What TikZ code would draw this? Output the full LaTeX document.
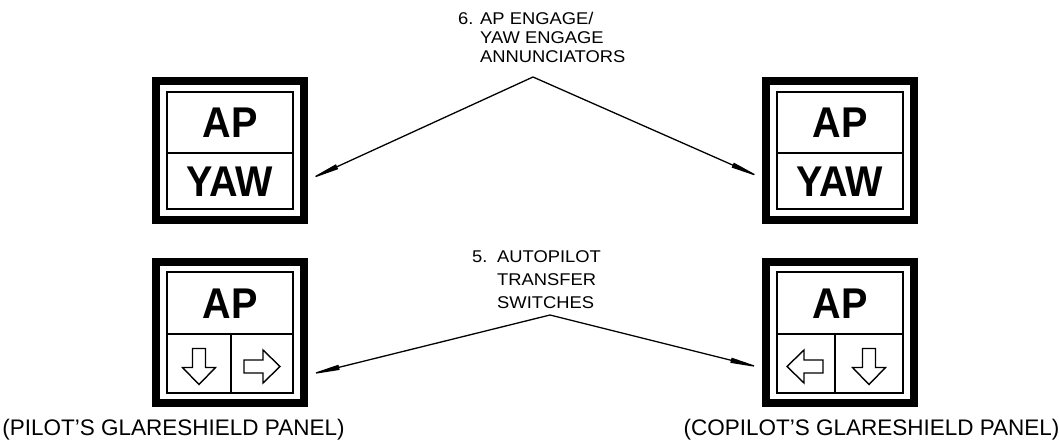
\documentclass[tikz,border=0pt]{standalone}
\usepackage{fontspec}
\setmainfont{Liberation Sans}
\newfontfamily\keyfont[FakeStretch=0.92]{Liberation Sans}
\newfontfamily\lblfont[FakeStretch=1.08]{Liberation Sans}
\usetikzlibrary{arrows.meta}
\begin{document}
\begin{tikzpicture}[x=1pt,y=-1pt,
  outerframe/.style={draw, line width=8pt, minimum width=148pt, inner sep=0pt},
  innerbox/.style={draw, line width=1.8pt, minimum width=126pt, inner sep=0pt},
  divider/.style={line width=1.5pt},
  keytext/.style={font=\keyfont\fontsize{43}{43}\selectfont\bfseries, inner sep=0pt},
  lbl/.style={font=\lblfont\fontsize{17}{17}\selectfont, anchor=base west, inner sep=0pt},
  caption/.style={font=\fontsize{22.5}{22.5}\selectfont, anchor=base, inner sep=0pt},
  leader/.style={line width=1.3pt, -{Triangle[length=32pt,width=5pt]}},
  arrowline/.style={line width=1.4pt, line join=miter},
  blockarrow/.pic={\draw[arrowline] (-18,-6.5) -- (1,-6.5) -- (1,-16.5) -- (18,0) -- (1,16.5) -- (1,6.5) -- (-18,6.5) -- cycle;}
]
\useasboundingbox (0,0) rectangle (1059,444);

% ---- top panels ----
\node[outerframe, minimum height=139pt] (ftl) at (230,150.5) {};
\node[innerbox, minimum height=117pt] (itl) at (230,150.5) {};
\draw[divider] (itl.west |- 0,153) -- (itl.east |- 0,153);
\node[keytext] (tlap) at (230,122.5) {AP};
\node[keytext] (tlyaw) at (230,182) {YAW};

\node[outerframe, minimum height=139pt] (ftr) at (840,150.5) {};
\node[innerbox, minimum height=117pt] (itr) at (840,150.5) {};
\draw[divider] (itr.west |- 0,153) -- (itr.east |- 0,153);
\node[keytext] (trap) at (840,122.5) {AP};
\node[keytext] (tryaw) at (840,182) {YAW};

% ---- bottom panels ----
\node[outerframe, minimum height=141pt] (fbl) at (230,332.5) {};
\node[innerbox, minimum height=121pt] (ibl) at (230,332.5) {};
\draw[divider] (ibl.west |- 0,334) -- (ibl.east |- 0,334);
\draw[divider] (231,334) -- (ibl.south -| 231,0);
\node[keytext] (blap) at (230,304) {AP};
\pic[rotate=-90] at (199,366.5) {blockarrow};
\pic at (262,366.5) {blockarrow};

\node[outerframe, minimum height=141pt] (fbr) at (840,332.5) {};
\node[innerbox, minimum height=121pt] (ibr) at (840,332.5) {};
\draw[divider] (ibr.west |- 0,334) -- (ibr.east |- 0,334);
\draw[divider] (835,334) -- (ibr.south -| 835,0);
\node[keytext] (brap) at (840,304) {AP};
\pic[rotate=180] at (805,366.5) {blockarrow};
\pic[rotate=-90] at (869,366.5) {blockarrow};

% ---- labels ----
\node[lbl] (l6a) at (458,25) {\makebox[22pt][l]{6.}AP ENGAGE/};
\node[lbl] (l6b) at (480,44) {YAW ENGAGE};
\node[lbl] (l6c) at (480,63) {ANNUNCIATORS};

\node[lbl] (l5a) at (472,262) {\makebox[25pt][l]{5.}AUTOPILOT};
\node[lbl] (l5b) at (497,285) {TRANSFER};
\node[lbl] (l5c) at (497,308) {SWITCHES};

% ---- leaders ----
\coordinate (a6) at (533,77);
\coordinate (e6l) at (308,180);
\coordinate (e6r) at (762,178);
\draw[leader] (a6) -- (e6l);
\draw[leader] (a6) -- (e6r);

\coordinate (a5) at (550,315);
\coordinate (e5l) at (308,375);
\coordinate (e5r) at (762,368);
\draw[leader] (a5) -- (e5l);
\draw[leader] (a5) -- (e5r);

% ---- captions ----
\node[caption] (cpil) at (173.5,435) {(PILOT'S GLARESHIELD PANEL)};
\node[caption] (ccop) at (871.5,435) {(COPILOT'S GLARESHIELD PANEL)};
\end{tikzpicture}
\end{document}
